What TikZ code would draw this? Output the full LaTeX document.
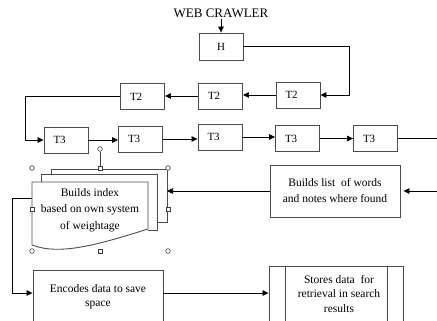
\documentclass[tikz,border=0pt]{standalone}
\usepackage{fontspec}
\setmainfont{Liberation Serif}
\usetikzlibrary{arrows.meta,calc}
\tikzset{
  box/.style={draw=black!70, line width=0.9pt, inner sep=0pt, minimum height=26pt, font=\fontsize{11}{13}\selectfont},
  tbox/.style={box, minimum width=44pt, text width=25pt, inner xsep=9.5pt, align=left},
  txt/.style={font=\fontsize{11.5}{15}\selectfont, align=center},
  conn/.style={line width=0.7pt, black},
  arr/.style={conn, -{Triangle[length=6pt,width=5.5pt]}},
  edge/.style={draw=black!70, line width=0.9pt},
  handle/.style={draw=black!75, fill=white, line width=0.6pt},
}
\begin{document}
\begin{tikzpicture}[x=1pt,y=-1pt]
\useasboundingbox (0,0) rectangle (437,321);
\clip (0,0) rectangle (437,321);

% title and H
\node[font=\fontsize{13}{15}\selectfont, inner sep=1pt] (wc) at (221,13) {WEB CRAWLER};
\node[box, minimum width=44pt, minimum height=27pt] (H) at (221,46.5) {H};

% T2 row
\node[tbox] (t2r) at (298,95) {T2};
\node[tbox] (t2m) at (220.5,96) {T2};
\node[tbox] (t2l) at (142.5,96.5) {T2};

% T3 row
\node[tbox] (t31) at (66,140) {T3};
\node[tbox] (t32) at (140.5,139) {T3};
\node[tbox] (t33) at (220,137) {T3};
\node[tbox] (t34) at (297.5,138.5) {T3};
\node[tbox] (t35) at (375.5,138.5) {T3};

% other boxes
\node[box, txt, font=\fontsize{11.5}{16}\selectfont, minimum width=130pt, minimum height=52pt] (bl) at (335,191) {Builds list~ of words\\and notes where found};
\node[box, txt, font=\fontsize{11.5}{14}\selectfont, minimum width=130pt, minimum height=53pt] (enc) at (98,296.5) {Encodes data to save\\space};
\node[box, minimum width=134pt, minimum height=56pt] (st) at (336,294) {};
\draw[edge] ([xshift=17pt]st.north west) -- ([xshift=17pt]st.south west);
\draw[edge] ([xshift=-16pt]st.north east) -- ([xshift=-16pt]st.south east);
\node[txt, font=\fontsize{11.5}{14.5}\selectfont] (stt) at (339,294) {Stores data~ for\\retrieval in search\\results};

% multi-document shape
\draw[edge] (51,174) -- (51,169) -- (167,169) -- (167,222) -- (157,222);
\draw[edge] (41,182) -- (41,174) -- (157,174) -- (157,230) -- (148,230);
\draw[edge, fill=white] (32,245) -- (32,182) -- (148,182) -- (148,229)
  .. controls (100,244) and (60,256) .. (32,245);
\node[txt, font=\fontsize{11.5}{16.5}\selectfont] (idx) at (90,210) {Builds index\\based on own system\\of weightage};
\coordinate (idxR) at (167,191);
\coordinate (idxL) at (32,198);

% selection handles
\draw[black!75, line width=0.6pt] (100,151.5) -- (100,166);
\foreach \p in {(100,149),(32,168),(168,168),(32,251),(168,251)}
  \draw[handle] \p circle (2.3pt);
\foreach \p in {(100,168),(32,209),(168,209),(100,251)}
  \draw[handle] \p ++(-2.2,-2.2) rectangle ++(4.4,4.4);

% connectors
\draw[arr] (wc.south) -- (H.north);
\draw[arr] (H.east) -- ++(106,0) |- (t2r.east);
\draw[arr] (t2r.west) -- (t2r.west -| t2m.east);
\draw[arr] (t2m.west) -- (t2m.west -| t2l.east);
\draw[arr] (t2l.west) -- ++(-95,0) |- (t31.west);
\draw[arr] (t31.east) -- (t31.east -| t32.west);
\draw[arr] (t32.east) -- (t32.east -| t33.west);
\draw[arr] (t33.east) -- (t33.east -| t34.west);
\draw[arr] (t34.east) -- (t34.east -| t35.west);
\coordinate (outR) at (437,138.5);
\draw[conn] (t35.east) -- (outR);
\coordinate (inR) at (437,191);
\draw[arr, shorten >=3pt] (inR) -- (inR -| bl.east);
\draw[arr] (bl.west) -- (bl.west -| idxR);
\draw[arr] (idxL) -- ++(-20,0) |- ([yshift=3.5pt]enc.west);
\draw[arr] ([yshift=3.5pt]enc.east) -- ([yshift=3.5pt]enc.east -| st.west);
\end{tikzpicture}
\end{document}
